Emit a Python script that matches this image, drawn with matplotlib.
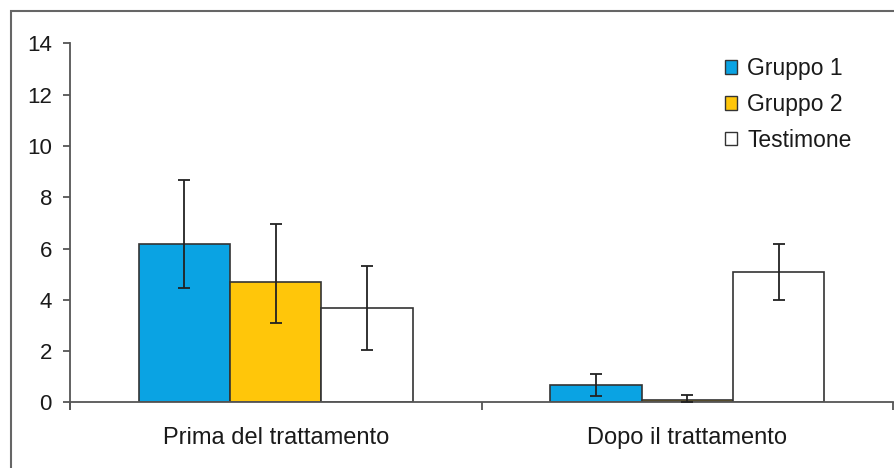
import numpy as np
import matplotlib.pyplot as plt
from matplotlib.patches import Rectangle

plt.rcParams['font.family'] = ['Liberation Sans', 'DejaVu Sans']

categories = ['Prima del trattamento', 'Dopo il trattamento']
series = ['Gruppo 1', 'Gruppo 2', 'Testimone']
colors = ['#0aa3e3', '#ffc60a', '#ffffff']

# mean values per series (rows) and category (columns)
values = [[6.17, 0.68],
          [4.70, 0.10],
          [3.69, 5.09]]
# upper and lower ends of the error bars
err_hi = [[8.69, 1.11],
          [6.96, 0.29],
          [5.32, 6.17]]
err_lo = [[4.47, 0.27],
          [3.09, 0.00],
          [2.03, 3.99]]

fig = plt.figure(figsize=(8.94, 4.68), dpi=100)
ax = fig.add_axes([0.0783, 0.140, 0.9206, 0.7675])

# frame around the whole chart
fig.patches.append(Rectangle((11 / 894, -0.1), 1.0, 1.1 - 11 / 468,
                             transform=fig.transFigure, fill=False,
                             edgecolor='#666666', linewidth=1.5))

x = np.arange(len(categories))
w = 0.222
for i, name in enumerate(series):
    v = np.array(values[i])
    lo = v - np.array(err_lo[i])
    hi = np.array(err_hi[i]) - v
    ax.bar(x + (i - 1) * w, v, w, color=colors[i], edgecolor='#333333',
           linewidth=1.2, label=name, zorder=2)
    ax.errorbar(x + (i - 1) * w, v, yerr=[lo, hi], fmt='none',
                ecolor='#222222', elinewidth=1.3, capsize=4, capthick=1.3,
                zorder=3)

ax.set_xlim(-0.5, 1.5)
ax.set_ylim(0, 14)
ax.set_yticks(range(0, 15, 2))
ax.set_xticks(x)
ax.set_xticklabels(categories)
ax.set_xticks([-0.5, 0.5, 1.5], minor=True)
ax.tick_params(axis='x', which='major', length=0, pad=18, labelsize=17,
               colors='#1a1a1a')
ax.tick_params(axis='x', which='minor', length=6, width=1.3, colors='#555555')
ax.tick_params(axis='y', length=5, width=1.3, labelsize=16, pad=8,
               colors='#555555', labelcolor='#1a1a1a')

for s in ['top', 'right']:
    ax.spines[s].set_visible(False)
for s in ['left', 'bottom']:
    ax.spines[s].set_color('#555555')
    ax.spines[s].set_linewidth(1.3)
ax.spines['left'].set_bounds(-0.25, 14)

leg = ax.legend(loc='upper right', bbox_to_anchor=(0.975, 1.018), frameon=False,
                fontsize=16.5, handlelength=0.55, handleheight=0.55,
                handletextpad=0.45, labelspacing=0.55)
for t in leg.get_texts():
    t.set_color('#1a1a1a')
for h in leg.legend_handles:
    h.set_linewidth(1.0)

fig.savefig('out.png', dpi=100)
